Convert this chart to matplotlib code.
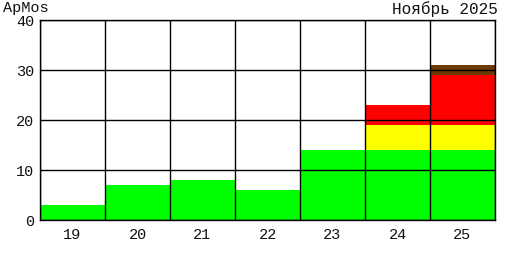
import matplotlib
import numpy as np

matplotlib.use("Agg")
import matplotlib.pyplot as plt  # noqa: E402

DAYS = ["19", "20", "21", "22", "23", "24", "25"]
GREEN = [3, 7, 8, 6, 14, 14, 14]
YELLOW = [0, 0, 0, 0, 0, 5, 5]
RED = [0, 0, 0, 0, 0, 4, 10]
BROWN = [0, 0, 0, 0, 0, 0, 2]
LAYERS = [
    (GREEN, "#00ff00"),
    (YELLOW, "#ffff00"),
    (RED, "#ff0000"),
    (BROWN, "#6b3a07"),
]
Y_TICKS = [0, 10, 20, 30, 40]

plt.rcParams["font.family"] = ["Liberation Mono", "DejaVu Sans Mono"]

figure = plt.figure(figsize=(5.15, 2.6), dpi=100)
axis = figure.add_axes([40 / 515, 40 / 260, 455 / 515, 200 / 260])

x = np.arange(len(DAYS))
bottom = np.zeros(len(DAYS))
for values, color in LAYERS:
    values = np.asarray(values, dtype=float)
    axis.bar(x, values, width=1.0, bottom=bottom, color=color, linewidth=0, zorder=1)
    bottom += values

axis.set_xlim(-0.5, len(DAYS) - 0.5)
axis.set_ylim(0, 40)
axis.set_xticks(x)
axis.set_xticklabels(DAYS)
axis.set_xticks(np.arange(len(DAYS) + 1) - 0.5, minor=True)
axis.set_yticks(Y_TICKS)
axis.tick_params(axis="both", which="both", length=0, labelsize=11, colors="#111111")
axis.tick_params(axis="x", pad=6)
axis.tick_params(axis="y", pad=4)
axis.grid(True, axis="y", which="major", color="black", linewidth=1.0, zorder=3)
axis.grid(True, axis="x", which="minor", color="black", linewidth=1.0, zorder=3)
axis.grid(False, axis="x", which="major")
axis.set_axisbelow(False)
for spine in axis.spines.values():
    spine.set_linewidth(1.0)
    spine.set_zorder(4)

figure.text(3 / 515, 1 - 1 / 260, "ApMos", ha="left", va="top", fontsize=11, color="#111111")
figure.text(498 / 515, 1 - 1 / 260, "Ноябрь 2025", ha="right", va="top", fontsize=11.5,
            color="#111111")

figure.savefig("out.png", dpi=100)
plt.close(figure)
